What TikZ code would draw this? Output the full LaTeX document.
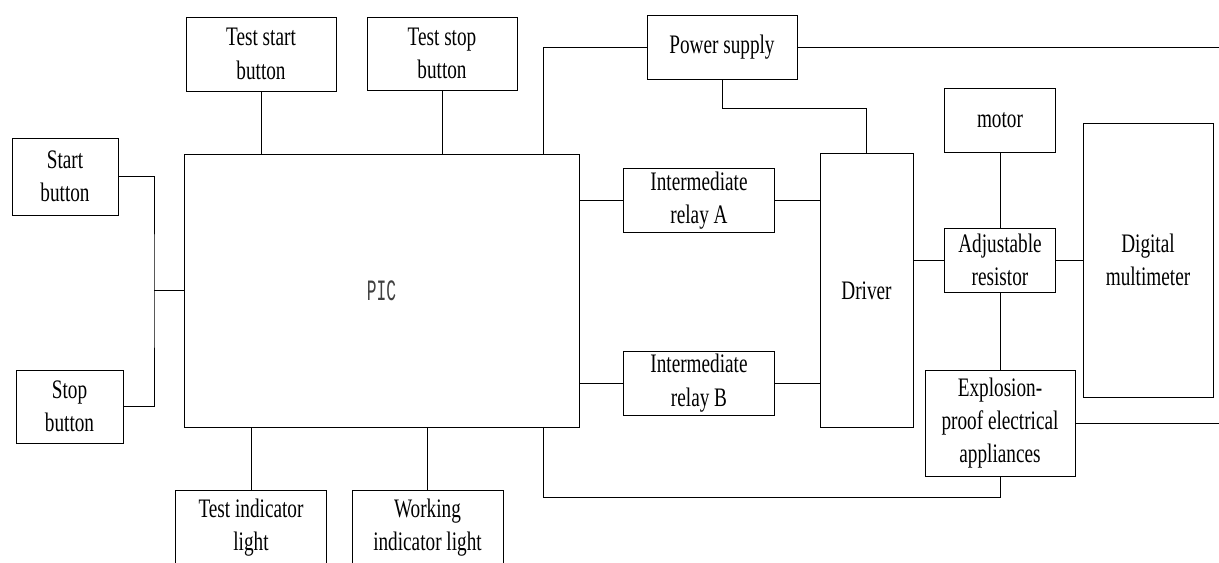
\documentclass[tikz,border=0pt]{standalone}
\usepackage{fontspec}
\setmainfont{Liberation Serif}[FakeStretch=0.72]
\newfontfamily\picfont{Liberation Mono}[FakeStretch=0.55]
\usetikzlibrary{positioning}

\begin{document}
\begin{tikzpicture}[x=0.025cm, y=-0.025cm, line width=0.6pt,
    blk/.style={draw, align=center, inner sep=0pt, font=\fontsize{19}{23.7}\selectfont}]
    \def\px{0.025cm}
\useasboundingbox (0,0) rectangle (1219,563);
\clip (0,0) rectangle (1219,563);
% left side
\node [name=tstart, blk, minimum width=150*\px, minimum height=74*\px] at (261,54) {Test start\\button};
\node [name=tstop, blk, minimum width=150*\px, minimum height=73*\px] at (442,53.5) {Test stop\\button};
\node [name=start, blk, minimum width=106*\px, minimum height=77*\px] at (65,176.5) {Start\\button};
\node [name=stop, blk, minimum width=107*\px, minimum height=73*\px] at (69.5,406.5) {Stop\\button};
\node [name=pic, draw, minimum width=395*\px, minimum height=273*\px] at (381.5,290.5) {};
\node [text=black!75, font=\picfont\fontsize{21}{25}\selectfont] at (pic.center) {PIC};
\node [name=tlight, blk, minimum width=150.5*\px, minimum height=75*\px] at (251,527.5) {Test indicator\\light};
\node [name=wlight, blk, minimum width=151*\px, minimum height=75*\px] at (427.5,527.5) {Working\\indicator light};
% right side
\node [name=power, blk, minimum width=150*\px, minimum height=64*\px] at (722,47.3) {Power supply};
\node [name=relayA, blk, minimum width=150.5*\px, minimum height=64*\px] at (699,200.7) {Intermediate\\relay A};
\node [name=relayB, blk, minimum width=150.5*\px, minimum height=64*\px] at (699,383) {Intermediate\\relay B};
\node [name=driver, blk, minimum width=93*\px, minimum height=274*\px] at (866.5,290.3) {Driver};
\node [name=motor, blk, minimum width=111*\px, minimum height=64*\px] at (1000,120.3) {motor};
\node [name=resistor, blk, minimum width=111*\px, minimum height=64*\px] at (1000,260) {Adjustable\\resistor};
\node [name=dmm, blk, minimum width=130*\px, minimum height=274*\px] at (1148,260) {Digital\\multimeter};
\node [name=explo, blk, minimum width=150*\px, minimum height=106*\px] at (1000,423) {Explosion-\\proof electrical\\appliances};
\coordinate (jl) at (154,290.5);
\coordinate (ptop) at (543,154);
\coordinate (pbot) at (543,427);
\coordinate (pright) at (1219,47.3);
\coordinate (eright) at (1219,423);
% wires
\draw (start.east) -| (jl) |- (stop.east);
\draw (jl) -- (pic.west);
\draw (tstart.south) -- (tstart.south |- pic.north);
\draw (tstop.south) -- (tstop.south |- pic.north);
\draw (tlight.north) -- (tlight.north |- pic.south);
\draw (wlight.north) -- (wlight.north |- pic.south);
\draw (ptop) |- (power.west);
\draw (power.east) -- (pright);
\draw (power.south) -- ++(0,29) -| (driver.north);
\draw (relayA.west -| pic.east) -- (relayA.west);
\draw (relayA.east) -- (relayA.east -| driver.west);
\draw (relayB.west -| pic.east) -- (relayB.west);
\draw (relayB.east) -- (relayB.east -| driver.west);
\draw (resistor.west -| driver.east) -- (resistor.west);
\draw (motor.south) -- (resistor.north);
\draw (resistor.east) -- (dmm.west);
\draw (resistor.south) -- (explo.north);
\draw (explo.east) -- (eright);
\draw (pbot) -- ++(0,70) -| (explo.south);
\end{tikzpicture}
\end{document}
